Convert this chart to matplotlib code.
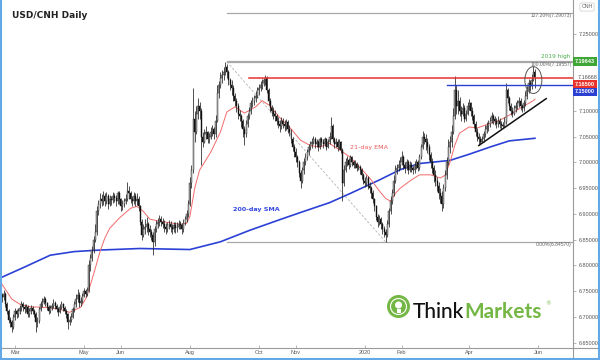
import numpy as np
import pandas as pd
import matplotlib
matplotlib.use("Agg")
import matplotlib.pyplot as plt
from matplotlib.patches import Ellipse, Rectangle
from matplotlib.lines import Line2D

# daily USD/CNH bars, Feb 18 2019 -> May 28 2020 (open = previous close)
start = "2019-02-18"
first_open = 6.735
closes = [
    6.742, 6.738, 6.745, 6.725, 6.712,  6.695, 6.690, 6.680, 6.700, 6.712,
    6.705, 6.712, 6.718, 6.725, 6.720,  6.715, 6.720, 6.705, 6.712, 6.718,
    6.712, 6.705, 6.690, 6.692, 6.715,  6.725, 6.730, 6.735, 6.728, 6.720,
    6.712, 6.718, 6.722, 6.728, 6.722,  6.715, 6.710, 6.720, 6.725, 6.718,
    6.712, 6.705, 6.690, 6.695, 6.700,  6.715, 6.725, 6.735, 6.742, 6.728,
    6.732, 6.740, 6.750, 6.745, 6.752,  6.800, 6.815, 6.830, 6.850, 6.865,
    6.905, 6.920, 6.930, 6.925, 6.935,  6.925, 6.935, 6.920, 6.930, 6.928,
    6.935, 6.932, 6.925, 6.940, 6.930,  6.915, 6.920, 6.925, 6.930, 6.945,
    6.940, 6.930, 6.925, 6.935, 6.925,  6.930, 6.915, 6.885, 6.860, 6.870,
    6.875, 6.880, 6.870, 6.865, 6.860,  6.845, 6.870, 6.880, 6.885, 6.890,
    6.885, 6.880, 6.875, 6.870, 6.878,  6.880, 6.875, 6.870, 6.878, 6.872,
    6.875, 6.880, 6.878, 6.870, 6.882,  6.890, 6.900, 6.920, 6.960, 6.985,
    7.085, 7.060, 7.095, 7.110, 7.100,  7.050, 7.040, 7.055, 7.060, 7.045,
    7.050, 7.060, 7.065, 7.055, 7.080,  7.135, 7.150, 7.165, 7.170, 7.175,
    7.185, 7.175, 7.160, 7.150, 7.145,  7.130, 7.120, 7.110, 7.095, 7.090,
    7.080, 7.065, 7.055, 7.075, 7.090,  7.100, 7.115, 7.120, 7.125, 7.130,
    7.140, 7.145, 7.150, 7.155, 7.160,  7.165, 7.140, 7.120, 7.105, 7.100,
    7.095, 7.090, 7.080, 7.075, 7.070,  7.080, 7.075, 7.070, 7.078, 7.065,
    7.060, 7.045, 7.030, 7.020, 7.010,  7.000, 6.980, 6.965, 6.985, 7.000,
    7.010, 7.020, 7.030, 7.035, 7.040,  7.045, 7.035, 7.040, 7.030, 7.045,
    7.040, 7.035, 7.045, 7.030, 7.040,  7.050, 7.070, 7.045, 7.035, 7.040,
    7.030, 7.040, 7.025, 6.960, 6.985,  7.000, 7.005, 6.995, 7.010, 7.000,
    6.995, 6.998, 6.990, 6.992, 6.985,  6.975, 6.965, 6.960, 6.970, 6.955,
    6.950, 6.940, 6.930, 6.915, 6.895,  6.885, 6.890, 6.880, 6.870, 6.865,
    6.860, 6.880, 6.905, 6.925, 6.940,  6.965, 6.985, 6.990, 6.995, 7.000,
    7.010, 6.995, 6.990, 7.000, 6.985,  6.995, 6.990, 6.985, 6.995, 7.000,
    6.990, 7.010, 7.030, 7.050, 7.045,  7.040, 7.030, 7.015, 7.000, 6.990,
    6.975, 6.965, 6.955, 6.940, 6.935,  6.920, 6.950, 6.975, 7.000, 7.030,
    7.040, 7.060, 7.090, 7.140, 7.110,  7.120, 7.100, 7.095, 7.105, 7.085,
    7.095, 7.110, 7.115, 7.100, 7.090,  7.075, 7.060, 7.050, 7.045, 7.040,
    7.045, 7.055, 7.065, 7.070, 7.075,  7.080, 7.090, 7.085, 7.080, 7.075,
    7.080, 7.075, 7.072, 7.070, 7.078,  7.140, 7.125, 7.110, 7.100, 7.095,
    7.105, 7.110, 7.115, 7.120, 7.110,  7.105, 7.115, 7.130, 7.140, 7.155,
    7.148, 7.160, 7.175, 7.1667,
]
highs = [
    6.748, 6.747, 6.752, 6.748, 6.730,  6.715, 6.700, 6.695, 6.705, 6.718,
    6.716, 6.718, 6.724, 6.732, 6.730,  6.726, 6.726, 6.724, 6.718, 6.724,
    6.722, 6.716, 6.710, 6.700, 6.720,  6.732, 6.736, 6.740, 6.738, 6.730,
    6.724, 6.724, 6.728, 6.734, 6.732,  6.726, 6.720, 6.726, 6.732, 6.728,
    6.722, 6.716, 6.708, 6.702, 6.708,  6.720, 6.732, 6.745, 6.755, 6.748,
    6.738, 6.746, 6.756, 6.755, 6.758,  6.810, 6.822, 6.838, 6.858, 6.880,
    6.915, 6.928, 6.940, 6.938, 6.945,  6.940, 6.942, 6.938, 6.936, 6.935,
    6.942, 6.940, 6.936, 6.945, 6.944,  6.932, 6.928, 6.932, 6.938, 6.962,
    6.955, 6.945, 6.935, 6.942, 6.940,  6.940, 6.935, 6.918, 6.890, 6.880,
    6.890, 6.895, 6.885, 6.878, 6.870,  6.865, 6.876, 6.888, 6.892, 6.898,
    6.896, 6.892, 6.888, 6.882, 6.885,  6.888, 6.886, 6.880, 6.885, 6.884,
    6.884, 6.888, 6.886, 6.882, 6.890,  6.896, 6.908, 6.928, 6.972, 6.995,
    7.145, 7.100, 7.110, 7.125, 7.118,  7.105, 7.060, 7.065, 7.070, 7.062,
    7.058, 7.068, 7.072, 7.068, 7.092,  7.150, 7.158, 7.175, 7.180, 7.186,
    7.196, 7.192, 7.180, 7.165, 7.160,  7.150, 7.135, 7.125, 7.115, 7.102,
    7.095, 7.085, 7.070, 7.082, 7.096,  7.108, 7.122, 7.128, 7.132, 7.138,
    7.146, 7.152, 7.158, 7.162, 7.165,  7.170, 7.168, 7.145, 7.126, 7.112,
    7.108, 7.102, 7.095, 7.088, 7.082,  7.088, 7.086, 7.082, 7.085, 7.082,
    7.072, 7.065, 7.050, 7.036, 7.028,  7.015, 7.004, 6.986, 6.992, 7.008,
    7.018, 7.026, 7.036, 7.042, 7.048,  7.052, 7.050, 7.046, 7.044, 7.050,
    7.050, 7.045, 7.050, 7.048, 7.046,  7.060, 7.088, 7.075, 7.050, 7.048,
    7.045, 7.046, 7.042, 7.028, 6.995,  7.008, 7.012, 7.008, 7.014, 7.012,
    7.004, 7.004, 7.000, 6.998, 6.996,  6.990, 6.980, 6.972, 6.976, 6.974,
    6.962, 6.955, 6.946, 6.932, 6.918,  6.900, 6.898, 6.895, 6.884, 6.876,
    6.870, 6.888, 6.912, 6.935, 6.948,  6.975, 6.995, 6.998, 7.004, 7.010,
    7.023, 7.015, 7.000, 7.006, 7.004,  7.002, 7.000, 6.994, 7.002, 7.006,
    7.004, 7.016, 7.036, 7.062, 7.058,  7.055, 7.048, 7.035, 7.020, 7.008,
    6.995, 6.985, 6.972, 6.962, 6.950,  6.945, 6.958, 6.985, 7.010, 7.045,
    7.052, 7.072, 7.105, 7.168, 7.150,  7.140, 7.128, 7.110, 7.115, 7.112,
    7.102, 7.118, 7.124, 7.118, 7.108,  7.095, 7.080, 7.066, 7.058, 7.052,
    7.052, 7.062, 7.072, 7.078, 7.082,  7.088, 7.098, 7.095, 7.090, 7.086,
    7.090, 7.086, 7.080, 7.078, 7.088,  7.155, 7.145, 7.130, 7.116, 7.108,
    7.112, 7.118, 7.122, 7.128, 7.125,  7.114, 7.122, 7.138, 7.148, 7.162,
    7.160, 7.172, 7.188, 7.182,
]
lows = [
    6.728, 6.730, 6.733, 6.720, 6.705,  6.688, 6.680, 6.670, 6.676, 6.695,
    6.698, 6.700, 6.706, 6.712, 6.712,  6.708, 6.710, 6.700, 6.700, 6.706,
    6.705, 6.700, 6.670, 6.680, 6.688,  6.712, 6.720, 6.725, 6.722, 6.714,
    6.705, 6.708, 6.714, 6.718, 6.715,  6.710, 6.702, 6.708, 6.715, 6.712,
    6.706, 6.698, 6.676, 6.685, 6.690,  6.698, 6.710, 6.720, 6.730, 6.720,
    6.722, 6.728, 6.738, 6.738, 6.740,  6.748, 6.790, 6.808, 6.825, 6.845,
    6.860, 6.898, 6.912, 6.915, 6.918,  6.915, 6.920, 6.910, 6.915, 6.918,
    6.922, 6.924, 6.915, 6.920, 6.920,  6.905, 6.908, 6.914, 6.920, 6.925,
    6.930, 6.922, 6.915, 6.920, 6.915,  6.918, 6.905, 6.878, 6.850, 6.855,
    6.862, 6.866, 6.860, 6.855, 6.850,  6.820, 6.838, 6.865, 6.872, 6.876,
    6.876, 6.872, 6.866, 6.862, 6.866,  6.870, 6.866, 6.862, 6.866, 6.864,
    6.866, 6.870, 6.870, 6.862, 6.866,  6.878, 6.885, 6.895, 6.915, 6.950,
    6.980, 7.040, 7.055, 7.085, 7.085,  6.995, 7.030, 7.038, 7.045, 7.038,
    7.038, 7.045, 7.052, 7.045, 7.050,  7.078, 7.125, 7.145, 7.155, 7.160,
    7.170, 7.165, 7.150, 7.140, 7.132,  7.120, 7.110, 7.098, 7.085, 7.080,
    7.068, 7.050, 7.033, 7.050, 7.068,  7.085, 7.095, 7.108, 7.112, 7.118,
    7.126, 7.132, 7.138, 7.142, 7.148,  7.150, 7.135, 7.112, 7.098, 7.090,
    7.085, 7.080, 7.072, 7.066, 7.060,  7.065, 7.066, 7.062, 7.064, 7.058,
    7.052, 7.038, 7.022, 7.010, 7.000,  6.992, 6.972, 6.950, 6.960, 6.978,
    6.995, 7.005, 7.015, 7.024, 7.028,  7.035, 7.028, 7.030, 7.022, 7.026,
    7.032, 7.028, 7.032, 7.025, 7.028,  7.036, 7.045, 7.040, 7.028, 7.030,
    7.022, 7.026, 7.018, 6.925, 6.955,  6.982, 6.994, 6.988, 6.992, 6.994,
    6.990, 6.990, 6.984, 6.986, 6.978,  6.968, 6.958, 6.952, 6.955, 6.948,
    6.940, 6.932, 6.922, 6.905, 6.888,  6.875, 6.878, 6.870, 6.862, 6.856,
    6.846, 6.855, 6.875, 6.900, 6.920,  6.935, 6.960, 6.978, 6.984, 6.988,
    6.995, 6.988, 6.980, 6.986, 6.978,  6.982, 6.982, 6.978, 6.980, 6.988,
    6.984, 6.986, 7.006, 7.026, 7.036,  7.025, 7.018, 7.005, 6.990, 6.980,
    6.962, 6.955, 6.945, 6.930, 6.922,  6.905, 6.912, 6.945, 6.968, 6.995,
    7.018, 7.030, 7.055, 7.085, 7.095,  7.095, 7.090, 7.080, 7.090, 7.078,
    7.080, 7.092, 7.102, 7.090, 7.082,  7.066, 7.052, 7.042, 7.034, 7.036,
    7.040, 7.040, 7.050, 7.058, 7.062,  7.068, 7.076, 7.075, 7.072, 7.066,
    7.068, 7.066, 7.065, 7.066, 7.068,  7.074, 7.115, 7.102, 7.092, 7.088,
    7.092, 7.098, 7.104, 7.108, 7.102,  7.098, 7.100, 7.110, 7.124, 7.135,
    7.138, 7.142, 7.158, 7.145,
]

# 200-day SMA
sma_dates = ["2019-02-18", "2019-03-11", "2019-04-02", "2019-04-23", "2019-05-15",
             "2019-06-19", "2019-08-01", "2019-08-28", "2019-09-23", "2019-10-18",
             "2019-11-06", "2019-12-02", "2019-12-19", "2020-01-14", "2020-01-31",
             "2020-02-18", "2020-03-16", "2020-04-01", "2020-04-20", "2020-05-06",
             "2020-05-28"]
sma_vals = [6.776, 6.797, 6.820, 6.827, 6.830, 6.833, 6.831, 6.846, 6.868, 6.889,
            6.903, 6.922, 6.940, 6.966, 6.986, 6.998, 7.004, 7.016, 7.030, 7.042,
            7.047]

# 21-day EMA
ema_dates = ["2019-02-18", "2019-02-27", "2019-03-06", "2019-03-14", "2019-04-02",
             "2019-04-10", "2019-04-18", "2019-04-29", "2019-05-02", "2019-05-07",
             "2019-05-10", "2019-05-15", "2019-05-20", "2019-05-23", "2019-05-31",
             "2019-06-11", "2019-06-17", "2019-06-21", "2019-06-27", "2019-07-05",
             "2019-07-24", "2019-07-30", "2019-08-01", "2019-08-06", "2019-08-09",
             "2019-08-20", "2019-08-28", "2019-09-03", "2019-09-10", "2019-09-18",
             "2019-09-27", "2019-10-03", "2019-10-10", "2019-10-18", "2019-10-28",
             "2019-11-06", "2019-11-14", "2019-11-22", "2019-12-02", "2019-12-11",
             "2019-12-19", "2019-12-27", "2020-01-06", "2020-01-14", "2020-01-20",
             "2020-01-23", "2020-01-28", "2020-01-31", "2020-02-10", "2020-02-18",
             "2020-02-27", "2020-03-06", "2020-03-11", "2020-03-16", "2020-03-19",
             "2020-03-24", "2020-04-01", "2020-04-08", "2020-04-20", "2020-04-28",
             "2020-05-06", "2020-05-15", "2020-05-27", "2020-05-28"]
ema_vals = [6.768, 6.735, 6.725, 6.720, 6.718, 6.715, 6.709, 6.719, 6.735, 6.762,
            6.794, 6.827, 6.853, 6.872, 6.892, 6.911, 6.915, 6.905, 6.890, 6.886,
            6.880, 6.882, 6.895, 6.950, 6.985, 7.020, 7.059, 7.098, 7.108, 7.096,
            7.108, 7.120, 7.110, 7.087, 7.069, 7.043, 7.033, 7.030, 7.037, 7.023,
            7.010, 6.990, 6.970, 6.945, 6.930, 6.925, 6.940, 6.950, 6.964, 6.976,
            6.976, 6.970, 6.975, 7.000, 7.033, 7.057, 7.069, 7.067, 7.076, 7.082,
            7.092, 7.106, 7.120, 7.123]

month_ticks = ["2019-03-01", "2019-05-01", "2019-06-03", "2019-08-01", "2019-10-01",
               "2019-11-01", "2020-01-01", "2020-02-03", "2020-04-01", "2020-06-01"]
month_labels = ["Mar", "May", "Jun", "Aug", "Oct", "Nov", "2020", "Feb", "Apr", "Jun"]
y_ticks = [6.65, 6.70, 6.75, 6.80, 6.85, 6.90, 6.95, 7.00, 7.05, 7.10, 7.25]

fib_high = 7.19557
fib_low = 6.84570
fib_ext = 7.29073
high_2019 = 7.19643
red_level = 7.165
blue_level = 7.150
last_px = 7.16668


def idx(d):
    # trading-day position, weekends removed like the original chart
    return np.busday_count(start, np.array(d, dtype="datetime64[D]"))


plt.rcParams['font.family'] = ['DejaVu Sans']

closes = np.array(closes)
highs = np.array(highs)
lows = np.array(lows)
opens = np.r_[first_open, closes[:-1]]
x = np.arange(len(closes))

W, H = 600, 360
fig = plt.figure(figsize=(6, 3.6), dpi=100)
ax = fig.add_axes([0, 12 / H, 573 / W, 348 / H])
xl, xr = -0.31, 356.7
ax.set_xlim(xl, xr)
ax.set_ylim(6.6398, 7.3155)

# candles
ax.vlines(x, lows, highs, color='#222222', lw=0.55, zorder=3)
up = closes >= opens
ax.bar(x[up], (closes - opens)[up], bottom=opens[up], width=0.62,
       color='#c8c8c8', edgecolor='#222222', linewidth=0.3, zorder=4)
ax.bar(x[~up], (closes - opens)[~up], bottom=opens[~up], width=0.62,
       color='#111111', edgecolor='#111111', linewidth=0.3, zorder=4)

# moving averages
ax.plot(idx(sma_dates), sma_vals, color='#2b41d6', lw=1.2, zorder=2)
ax.plot(idx(ema_dates), ema_vals, color='#f26a6a', lw=0.7, zorder=2)

# fib retracement tool
f0 = idx("2019-09-03")
f1 = idx("2020-01-20")
for lvl in (fib_ext, fib_high, high_2019, fib_low):
    ax.plot([f0, xr], [lvl, lvl], color='#a8a8a8', lw=0.9, zorder=1)
ax.plot([f0, f1], [fib_high, fib_low], color='#b4b4b4', lw=0.6,
        ls=(0, (3, 2)), zorder=1)

# support / resistance
ax.plot([idx("2019-09-23"), xr], [red_level, red_level], color='#e8322b', lw=1.1, zorder=5)
ax.plot([idx("2020-03-12"), xr], [blue_level, blue_level], color='#2b3fd0', lw=1.0, zorder=5)

# rising trend line
t0, t1 = idx("2020-04-09"), idx("2020-06-08")
ax.plot([t0, t1], [7.033, 7.124], color='#111111', lw=1.1, zorder=6, clip_on=False)

ax.add_patch(Ellipse((idx("2020-05-27"), 7.160), 10.6, 0.052, fill=False,
                     edgecolor='#555555', lw=0.7, zorder=7))

# axes cosmetics
for s in ('top', 'left'):
    ax.spines[s].set_visible(False)
for s in ('right', 'bottom'):
    ax.spines[s].set_color('#9a9a9a')
    ax.spines[s].set_linewidth(0.8)
ax.yaxis.tick_right()
ax.set_yticks(y_ticks)
ax.set_yticklabels([f"{v:.5f}" for v in y_ticks])
ax.set_xticks(idx(month_ticks))
ax.set_xticklabels(month_labels)
ax.tick_params(axis='y', direction='out', length=2.5, width=0.5, color='#999999',
               labelsize=4, labelcolor='#555555', pad=1.5)
ax.tick_params(axis='x', direction='in', length=2, width=0.5, color='#999999',
               labelsize=4, labelcolor='#555555', pad=1.5)
for lbl in ax.get_yticklabels() + ax.get_xticklabels():
    lbl.set_fontfamily('Liberation Sans')

yt = ax.get_yaxis_transform()
# fib labels
ax.text(0.998, fib_ext, "127.20%(7.29073)", transform=yt, ha='right', va='top',
        fontsize=3.6, color='#666666', family='Liberation Sans')
ax.text(0.998, fib_high, "100.00%(7.19557)", transform=yt, ha='right', va='top',
        fontsize=3.6, color='#666666', family='Liberation Sans')
ax.text(0.998, fib_low, "0.00%(6.84570)", transform=yt, ha='right', va='top',
        fontsize=3.6, color='#666666', family='Liberation Sans')
ax.text(0.995, high_2019 + 0.004, "2019 high", transform=yt, ha='right', va='bottom',
        fontsize=4.2, color='#4cae4c')

# price boxes on the scale
def price_box(y, txt, fc):
    ax.text(1.0035, y, txt, transform=yt, ha='left', va='center', fontsize=4,
            color='white', fontweight='bold', family='Liberation Sans', clip_on=False,
            bbox=dict(boxstyle='square,pad=0.35', fc=fc, ec='none'))

price_box(high_2019, "7.19643", '#3fa535')
ax.text(1.0075, last_px - 0.0015, "7.16668", transform=yt, ha='left', va='center',
        fontsize=4, color='#555555', family='Liberation Sans', clip_on=False)
price_box(7.1524, "7.16500", '#e8322b')
price_box(7.1369, "7.15000", '#2b3fd0')

fig.text(587 / W, 1 - 7 / H, "CNH", ha='center', va='center', fontsize=3.8,
         color='#666666', family='Liberation Sans',
         bbox=dict(boxstyle='round,pad=0.3', fc='white', ec='#cccccc', lw=0.5))

# chart labels
ax.text(12 / 573, 1 - 15 / 348, "USD/CNH Daily", transform=ax.transAxes,
        fontsize=6.5, fontweight='bold', color='#222222', va='center')
ax.text(233 / 573, 1 - 209 / 348, "200-day SMA", transform=ax.transAxes,
        fontsize=4.6, fontweight='bold', color='#3347dc', va='center')
ax.text(350 / 573, 1 - 148 / 348, "21-day EMA", transform=ax.transAxes,
        fontsize=4.6, color='#f05a5a', va='center')

# ThinkMarkets logo (sizes in pixels, converted to figure fractions)
green = '#74b744'
cx, cy = 398.5 / W, 1 - 306.5 / H
tf = fig.transFigure
fig.patches.append(Ellipse((cx, cy), 23 / W, 23 / H, transform=tf,
                           fc=green, ec='none', zorder=10))
fig.patches.append(Ellipse((cx, cy), 16 / W, 16 / H, transform=tf,
                           fill=False, ec='white', lw=0.8, zorder=11))
fig.patches.append(Ellipse((cx, cy + 1.5 / H), 7 / W, 7 / H, transform=tf,
                           fc='white', ec='none', zorder=11))
fig.patches.append(Rectangle((cx - 2 / W, cy - 6 / H), 4 / W, 4 / H, transform=tf,
                             fc='white', ec='none', zorder=11))
t1 = fig.text(413 / W, 1 - 318 / H, "Think", fontsize=15, color='#111111',
              family='Lato', fontweight='medium', va='baseline', ha='left')
fig.canvas.draw()
bb = t1.get_window_extent()
fig.text(bb.x1 / W + 0.5 / W, 1 - 318 / H, "Markets", fontsize=15, color=green,
         family='Lato', fontweight='bold', va='baseline', ha='left')
fig.text(548 / W, 1 - 304 / H, "®", fontsize=4, color=green, ha='center', va='center')

# frame lines
fig.add_artist(Line2D([573 / W, 1], [12 / H, 12 / H], color='#9a9a9a', lw=0.8))
fig.add_artist(Line2D([573 / W, 573 / W], [2 / H, 12 / H], color='#9a9a9a', lw=0.8))
fig.add_artist(Line2D([1 / W, 1 / W], [0, 1], color='#62a9e6', lw=1.5))
fig.add_artist(Line2D([599 / W, 599 / W], [0, 1], color='#62a9e6', lw=1.5))
fig.add_artist(Line2D([0, 1], [1 / H, 1 / H], color='#62a9e6', lw=1.5))

fig.savefig("out.png", dpi=100)
